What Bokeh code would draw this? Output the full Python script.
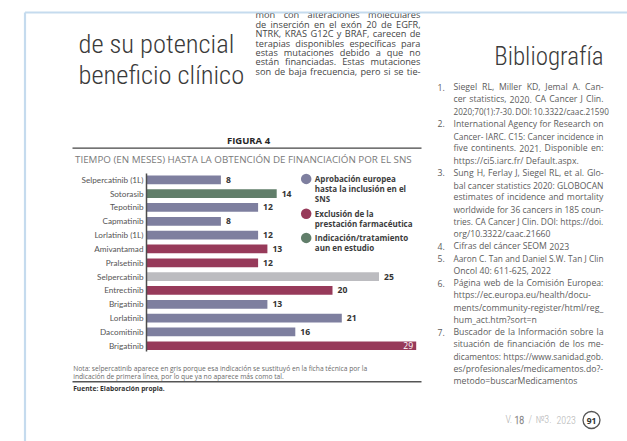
from bokeh.plotting import figure
from bokeh.models import Range1d
from bokeh.core.properties import value
from bokeh.embed import file_html
from bokeh.resources import INLINE

# ---------------- data ----------------
drugs = ["Selpercatinib (1L)", "Sotorasib", "Tepotinib", "Capmatinib", "Lorlatinib (1L)",
         "Amivantamad", "Pralsetinib", "Selpercatinib", "Entrectinib", "Brigatinib",
         "Lorlatinib", "Dacomitinib", "Brigatinib"]
months = [8, 14, 12, 8, 12, 13, 12, 25, 20, 13, 21, 16, 29]
groups = ["eu", "study", "eu", "eu", "eu", "excl", "excl", "replaced", "excl",
          "eu", "eu", "eu", "excl"]
group_colors = {"eu": "#7e7f9f", "excl": "#973a5a", "study": "#617e6a", "replaced": "#bcbcc0"}
legend_groups = ["eu", "excl", "study"]
legend_lines = {
    "eu": ["Aprobación europea", "hasta la inclusión en el", "SNS"],
    "excl": ["Exclusión de la", "prestación farmacéutica"],
    "study": ["Indicación/tratamiento", "aun en estudio"],
}
fig_title = "FIGURA 4"
fig_subtitle = "TIEMPO (EN MESES) HASTA LA OBTENCIÓN DE FINANCIACIÓN POR EL SNS"
note_lines = ["Nota: selpercatinib aparece en gris porque esa indicación se sustituyó en la ficha técnica por la",
              "indicación de primera línea, por lo que ya no aparece más como tal."]
source_text = "Fuente: Elaboración propia."

heading_lines = ["de su potencial", "beneficio clínico"]
body_lines = ["mon con alteraciones moleculares",
              "de inserción en el exón 20 de EGFR,",
              "NTRK, KRAS G12C y BRAF, carecen de",
              "terapias disponibles específicas para",
              "estas mutaciones debido a que no",
              "están financiadas. Estas mutaciones",
              "son de baja frecuencia, pero si se tie-"]
biblio_title = "Bibliografía"
biblio_numbers = ["1.", "", "", "2.", "", "", "", "3.", "", "", "", "", "", "4.", "5.", "",
                  "6.", "", "", "", "7.", "", "", "", ""]
biblio_lines = ["Siegel RL, Miller KD, Jemal A. Can-",
                "cer statistics, 2020. CA Cancer J Clin.",
                "2020;70(1):7-30. DOI: 10.3322/caac.21590",
                "International Agency for Research on",
                "Cancer- IARC. C15: Cancer incidence in",
                "five continents. 2021. Disponible en:",
                "https://ci5.iarc.fr/ Default.aspx.",
                "Sung H, Ferlay J, Siegel RL, et al. Glo-",
                "bal cancer statistics 2020: GLOBOCAN",
                "estimates of incidence and mortality",
                "worldwide for 36 cancers in 185 coun-",
                "tries. CA Cancer J Clin. DOI: https://doi.",
                "org/10.3322/caac.21660",
                "Cifras del cáncer SEOM 2023",
                "Aaron C. Tan and Daniel S.W. Tan J Clin",
                "Oncol 40: 611-625, 2022",
                "Página web de la Comisión Europea:",
                "https://ec.europa.eu/health/docu-",
                "ments/community-register/html/reg_",
                "hum_act.htm?sort=n",
                "Buscador de la Información sobre la",
                "situación de financiación de los me-",
                "dicamentos: https://www.sanidad.gob.",
                "es/profesionales/medicamentos.do?-",
                "metodo=buscarMedicamentos"]
biblio_last_lines = [6, 12, 13, 15, 19, 24]   # last line of each reference (not justified)
footer_parts = ["V.", "18", "/", "№3.", "2023"]
page_number = "91"

# ---------------- layout ----------------
W, H = 627, 441
ZERO_PX, PX_PER_MONTH = 146.0, 9.3
ROW0_PX, ROW_PX = 179.3, 13.83
BODY = "Open Sans"
LABEL = "Lato"
THIN = "'Roboto Condensed Light', 'Liberation Sans Narrow', 'Roboto Light', 'Lato Light', Roboto"

# approximate Open Sans advance widths (em) for justified text layout
_W = {" ": .26, ",": .243, "-": .322, ".": .266, "/": .367, ":": .266, ";": .266, "(": .286,
      ")": .286, "=": .571, "?": .429, "_": .429,
      "A": .635, "B": .659, "C": .624, "D": .732, "E": .556, "F": .513, "G": .711, "H": .738,
      "I": .279, "J": .267, "K": .62, "L": .515, "M": .914, "N": .758, "O": .779, "P": .613,
      "Q": .779, "R": .631, "S": .556, "T": .566, "U": .736, "V": .589, "W": .935, "X": .58,
      "Y": .562, "Z": .576,
      "a": .556, "b": .613, "c": .476, "d": .613, "e": .561, "f": .339, "g": .548, "h": .614,
      "i": .253, "j": .253, "k": .525, "l": .253, "m": .93, "n": .614, "o": .604, "p": .613,
      "q": .613, "r": .408, "s": .477, "t": .353, "u": .614, "v": .501, "w": .778, "x": .524,
      "y": .502, "z": .477}
_ACC = str.maketrans("áéíóúñÁÉÍÓÚÑ", "aeiounAEIOUN")


def word_em(w):
    return sum(_W.get(c, .572 if c.isdigit() else .55) for c in w.translate(_ACC))


def justify(lines, left, right, ys, size, ragged=()):
    xs, yy, ts, ss = [], [], [], []
    target = right - left
    for k, (line, y) in enumerate(zip(lines, ys)):
        words = line.split(" ")
        wem = [word_em(w) for w in words]
        nat = sum(wem) + _W[" "] * (len(words) - 1)
        fs = size if nat * size <= target else max(size * 0.94, target / nat)
        if k in ragged or len(words) == 1:
            gap = _W[" "] * fs
        else:
            gap = max((target - sum(wem) * fs) / (len(words) - 1), 0.14 * fs)
        x = left
        for w, e in zip(words, wem):
            xs.append(x); yy.append(y); ts.append(w); ss.append(f"{fs:.2f}px")
            x += e * fs + gap
    return xs, yy, ts, ss


p = figure(width=W, height=H, output_backend="svg", toolbar_location=None,
           x_range=Range1d(-ZERO_PX / PX_PER_MONTH, (W - ZERO_PX) / PX_PER_MONTH),
           y_range=Range1d((H - ROW0_PX) / ROW_PX, -ROW0_PX / ROW_PX),
           min_border=0, x_axis_location=None, y_axis_location=None)
p.extra_x_ranges = {"px": Range1d(0, W)}
p.extra_y_ranges = {"px": Range1d(H, 0)}
p.outline_line_color = None
p.background_fill_color = "white"
p.border_fill_color = "white"
p.xgrid.visible = False
p.ygrid.visible = False

PX = dict(x_range_name="px", y_range_name="px")


def txt(xs, ys, texts, size, color, font=BODY, style="normal", align="left", baseline="middle"):
    p.text(x=xs, y=ys, text=texts, text_font=value(font), text_font_size=size,
           text_color=color, text_font_style=style, text_align=align,
           text_baseline=baseline, **PX)


def jtxt(xs, ys, texts, sizes, color):
    p.text(x="x", y="y", text="t", text_font_size="s",
           source=dict(x=xs, y=ys, t=texts, s=sizes),
           text_font=value(BODY), text_color=color, text_align="left",
           text_baseline="middle", **PX)


# --- left heading ---
txt([78, 78], [42.5, 74], heading_lines, "26.5px", "#3a3a3a", font=THIN, baseline="alphabetic")

# --- middle column body text (justified) ---
body_y = [14.2 + 9.45 * i for i in range(len(body_lines))]
jtxt(*justify(body_lines, 255, 420, body_y, 9.2), "#454545")
# page cut above top rule
p.quad(left=[0], right=[W], top=[0], bottom=[12], fill_color="white", line_color=None, **PX)

# --- page frame lines ---
p.segment(x0=[24.5, 24.5], y0=[12, 12], x1=[W, 24.5], y1=[12, H],
          line_color="#c5dbee", line_width=2.2, **PX)

# --- bibliography ---
txt([603], [56], [biblio_title], "25px", "#3a3a3a", font=THIN, align="right")
by = [86.7 + 12.25 * i for i in range(len(biblio_lines))]
nums = [(n, y) for n, y in zip(biblio_numbers, by) if n]
txt([437] * len(nums), [y for _, y in nums], [n for n, _ in nums], "8.7px", "#5c5c5c")
jtxt(*justify(biblio_lines, 453, 603, by, 8.7, ragged=biblio_last_lines), "#5c5c5c")

# --- footer ---
FOOT = "10px"
fx = [505, 514, 528, 535, 556]
fc = ["#b0b0b0", "#8a8a8a", "#b4b4b4", "#b4b4b4", "#b4b4b4"]
for part, x, c in zip(footer_parts, fx, fc):
    txt([x], [419], [part], FOOT, c, font=THIN, style="bold" if part == "18" else "normal")
p.scatter(x=[591], y=[419.5], size=17, marker="circle", fill_color="white",
          line_color="#555555", line_width=1.3, **PX)
txt([591], [420], [page_number], "8.5px", "#333333", style="bold", align="center")

# --- figure header ---
txt([248], [140], [fig_title], "9.5px", "#262626", style="bold", align="center")
p.segment(x0=[72], y0=[147.7], x1=[421], y1=[147.7], line_color="#444444", line_width=1.3, **PX)
txt([74.5], [158.5], [fig_subtitle], "9.8px", "#7a7a7a")

# --- bars (data space) ---
rows = list(range(len(drugs)))
colors = [group_colors[g] for g in groups]
p.hbar(y=rows, left=0, right=months, height=0.63, fill_color=colors, line_color=None)

# category labels and axis line
p.text(x=0, y=rows, text=drugs, x_offset=-3, text_align="right", text_baseline="middle",
       text_font=value(LABEL), text_font_size="8.2px", text_color="#555555")
p.segment(x0=[0], y0=[-0.45], x1=[0], y1=[len(drugs) - 0.58], line_color="#4d4d4d", line_width=1.5)

# value labels
vmax = max(months)
out_idx = [i for i, v in enumerate(months) if v != vmax]
in_idx = [i for i, v in enumerate(months) if v == vmax]
p.text(x=[months[i] for i in out_idx], y=[rows[i] for i in out_idx],
       text=[str(months[i]) for i in out_idx], x_offset=5, text_align="left",
       text_baseline="middle", text_font=value(BODY), text_font_size="8.6px",
       text_font_style="bold", text_color="#333333")
p.text(x=[months[i] for i in in_idx], y=[rows[i] for i in in_idx],
       text=[str(months[i]) for i in in_idx], x_offset=-3, text_align="right",
       text_baseline="middle", text_font=value(BODY), text_font_size="8.6px",
       text_color="#ffffff")

# --- legend ---
leg_top = [178.4, 213.2, 237.4]
LINE = 9.8
p.scatter(x=[305.7] * len(legend_groups), y=leg_top, size=10.5, marker="circle",
          fill_color=[group_colors[g] for g in legend_groups], line_color=None, **PX)
lx, ly, lt = [], [], []
for g, y0 in zip(legend_groups, leg_top):
    for k, line in enumerate(legend_lines[g]):
        lx.append(314.3)
        ly.append(y0 + LINE * k)
        lt.append(line)
txt(lx, ly, lt, "8px", "#3c3c3c", style="bold")

# --- notes ---
txt([72.7, 72.7], [367.7, 376.2], note_lines, "6.7px", "#6a6a6a")
p.segment(x0=[72], y0=[381.2], x1=[421], y1=[381.2], line_color="#555555", line_width=1.6, **PX)
txt([72.7], [388], [source_text], "6.7px", "#333333", style="bold")

open("out.html", "w").write(file_html(p, INLINE))
